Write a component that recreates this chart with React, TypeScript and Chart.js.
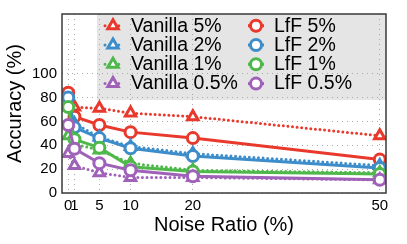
import React, { useEffect, useRef } from "react";
import { Chart, registerables } from "chart.js";

Chart.register(...registerables);

const noiseRatios = [0, 1, 5, 10, 20, 50];
const yTicks = [0, 20, 40, 60, 80, 100];

const vanilla5 = [73, 72, 71, 67, 64, 48];
const lff5 = [84, 64, 57, 51, 46, 28];
const vanilla2 = [76, 58, 47, 39, 33, 23];
const lff2 = [80, 55, 46, 37.5, 31, 21];
const vanilla1 = [48, 41, 36, 25, 19, 17];
const lff1 = [72, 45, 38, 22, 18, 16];
const vanilla05 = [33, 23, 17, 13, 13, 11];
const lff05 = [57, 37, 25, 19, 14, 11];

const RED = "#e8392c";
const BLUE = "#3d8dca";
const GREEN = "#4fb84b";
const PURPLE = "#a062b8";

const FONT = '"Liberation Sans", Arial, Helvetica, sans-serif';

const seriesDefs = [
  { label: "Vanilla 5%", data: vanilla5, color: RED, vanilla: true },
  { label: "LfF 5%", data: lff5, color: RED, vanilla: false },
  { label: "Vanilla 2%", data: vanilla2, color: BLUE, vanilla: true },
  { label: "LfF 2%", data: lff2, color: BLUE, vanilla: false },
  { label: "Vanilla 1%", data: vanilla1, color: GREEN, vanilla: true },
  { label: "LfF 1%", data: lff1, color: GREEN, vanilla: false },
  { label: "Vanilla 0.5%", data: vanilla05, color: PURPLE, vanilla: true },
  { label: "LfF 0.5%", data: lff05, color: PURPLE, vanilla: false },
];

function drawHandle(ctx: CanvasRenderingContext2D, vanilla: boolean, x: number, y: number, color: string) {
  ctx.save();
  ctx.lineWidth = 3;
  ctx.strokeStyle = color;
  ctx.lineCap = vanilla ? "round" : "butt";
  ctx.setLineDash(vanilla ? [0, 4.6] : []);
  ctx.beginPath();
  ctx.moveTo(x - 8, y);
  ctx.lineTo(x + 8, y);
  ctx.stroke();
  ctx.setLineDash([]);
  ctx.fillStyle = "#ffffff";
  ctx.beginPath();
  if (vanilla) {
    const r = 6;
    ctx.moveTo(x, y - r);
    ctx.lineTo(x + r * 0.866, y + r * 0.5);
    ctx.lineTo(x - r * 0.866, y + r * 0.5);
    ctx.closePath();
  } else {
    ctx.arc(x, y, 5.5, 0, Math.PI * 2);
  }
  ctx.fill();
  ctx.stroke();
  ctx.restore();
}

const legendPlugin = {
  id: "customLegend",
  beforeDraw(chart: any) {
    const { ctx, chartArea } = chart;
    ctx.save();
    ctx.fillStyle = "#e5e5e5";
    ctx.fillRect(97, chartArea.top, chartArea.right - 97, 100 - chartArea.top);
    ctx.restore();
  },
  afterDraw(chart: any) {
    const { ctx, chartArea } = chart;
    ctx.save();
    ctx.strokeStyle = "#3a3a3a";
    ctx.lineWidth = 1.5;
    ctx.strokeRect(chartArea.left, chartArea.top, chartArea.right - chartArea.left, chartArea.bottom - chartArea.top);
    ctx.restore();
    const rows = [25.7, 45, 64.3, 83.6];
    ctx.save();
    ctx.font = "19.5px " + FONT;
    ctx.textBaseline = "middle";
    ctx.fillStyle = "#000000";
    seriesDefs.forEach((s, i) => {
      const row = Math.floor(i / 2);
      const col = i % 2;
      const y = rows[row];
      const mx = col === 0 ? 113 : 256;
      const tx = col === 0 ? 131 : 274;
      drawHandle(ctx, s.vanilla, mx, y, s.color);
      ctx.fillStyle = "#000000";
      ctx.fillText(s.label, tx, y + 0.5);
    });
    ctx.restore();
  },
};

export default function App() {
  const canvasRef = useRef<HTMLCanvasElement | null>(null);

  useEffect(() => {
    document.body.style.margin = "0";
    const canvas = canvasRef.current;
    if (!canvas) return;
    const datasets = seriesDefs.map((s, i) => ({
      label: s.label,
      data: noiseRatios.map((x, j) => ({ x, y: s.data[j] })),
      borderColor: s.color,
      backgroundColor: "#ffffff",
      borderWidth: 3,
      borderDash: s.vanilla ? [0, 4.6] : [],
      borderCapStyle: s.vanilla ? "round" : "butt",
      pointStyle: s.vanilla ? "triangle" : "circle",
      pointRadius: s.vanilla ? 6 : 5.5,
      pointBorderWidth: 3,
      pointBorderColor: s.color,
      pointBackgroundColor: "#ffffff",
      tension: 0,
      order: seriesDefs.length - i,
    }));

    const gridOpts = {
      color: "#a8a8a8",
      lineWidth: 1,
      drawTicks: false,
      borderDash: [1, 4],
    };

    const chart = new Chart(canvas, {
      type: "line",
      data: { datasets } as any,
      options: {
        animation: false,
        responsive: false,
        devicePixelRatio: 1,
        layout: { padding: { left: 0, right: 21, top: 12, bottom: 0 } },
        plugins: { legend: { display: false }, tooltip: { enabled: false } },
        scales: {
          x: {
            type: "linear",
            min: -1,
            max: 51,
            afterBuildTicks: (scale: any) => {
              scale.ticks = noiseRatios.map((v) => ({ value: v }));
            },
            afterFit: (scale: any) => {
              scale.height = 51;
            },
            ticks: {
              autoSkip: false,
              maxRotation: 0,
              padding: 4,
              color: "#000",
              font: { family: FONT, size: 15 },
              callback: (v: any) => String(v),
            },
            grid: gridOpts,
            border: { display: false, dash: [1, 4] },
            title: {
              display: true,
              text: "Noise Ratio (%)",
              color: "#000",
              font: { family: FONT, size: 20 },
              padding: { top: 0, bottom: 7 },
            },
          },
          y: {
            type: "linear",
            min: 0,
            max: 150,
            afterBuildTicks: (scale: any) => {
              scale.ticks = yTicks.map((v) => ({ value: v }));
            },
            afterFit: (scale: any) => {
              scale.width = 62;
            },
            ticks: {
              padding: 5,
              color: "#000",
              font: { family: FONT, size: 15 },
              callback: (v: any) => String(v),
            },
            grid: gridOpts,
            border: { display: false, dash: [1, 4] },
            title: {
              display: true,
              text: "Accuracy (%)",
              color: "#000",
              font: { family: FONT, size: 20 },
              padding: { top: 3, bottom: 0 },
            },
          },
        },
      } as any,
      plugins: [legendPlugin],
    });
    return () => chart.destroy();
  }, []);

  return (
    <div style={{ width: 407, height: 244, position: "relative" }}>
      <canvas ref={canvasRef} width={407} height={244} style={{ display: "block" }} />
    </div>
  );
}
